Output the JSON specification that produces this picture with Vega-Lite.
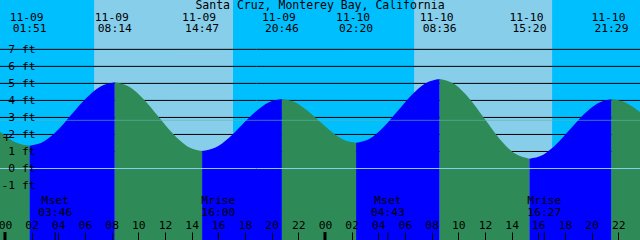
{
  "$schema": "https://vega.github.io/schema/vega-lite/v6.json",
  "width": 640,
  "height": 240,
  "autosize": {"type": "none"},
  "padding": 0,
  "background": "#00BFFF",
  "view": {"fill": "#00BFFF", "stroke": null},
  "config": {"text": {"font": "DejaVu Sans Mono", "fontSize": 11.3, "color": "black"}},
  "title": {"text": "Santa Cruz, Monterey Bay, California", "orient": "top", "anchor": "middle", "offset": -20, "baseline": "alphabetic", "font": "DejaVu Sans Mono", "fontSize": 11.5, "fontWeight": "normal", "color": "black"},
  "datasets": {
    "tide": [
      {"t": "2024-11-08T19:40", "h": 4.2, "seg": 0, "dir": "fall"},
      {"t": "2024-11-08T20:42", "h": 4.01, "seg": 0, "dir": "fall"},
      {"t": "2024-11-08T21:44", "h": 3.49, "seg": 0, "dir": "fall"},
      {"t": "2024-11-08T22:45", "h": 2.77, "seg": 0, "dir": "fall"},
      {"t": "2024-11-08T23:47", "h": 2.06, "seg": 0, "dir": "fall"},
      {"t": "2024-11-09T00:49", "h": 1.53, "seg": 0, "dir": "fall"},
      {"t": "2024-11-09T01:51", "h": 1.34, "seg": 0, "dir": "fall"},
      {"t": "2024-11-09T01:51", "h": 1.34, "seg": 1, "dir": "rise"},
      {"t": "2024-11-09T02:55", "h": 1.59, "seg": 1, "dir": "rise"},
      {"t": "2024-11-09T03:59", "h": 2.27, "seg": 1, "dir": "rise"},
      {"t": "2024-11-09T05:02", "h": 3.21, "seg": 1, "dir": "rise"},
      {"t": "2024-11-09T06:06", "h": 4.14, "seg": 1, "dir": "rise"},
      {"t": "2024-11-09T07:10", "h": 4.82, "seg": 1, "dir": "rise"},
      {"t": "2024-11-09T08:14", "h": 5.07, "seg": 1, "dir": "rise"},
      {"t": "2024-11-09T08:14", "h": 5.07, "seg": 2, "dir": "fall"},
      {"t": "2024-11-09T09:19", "h": 4.8, "seg": 2, "dir": "fall"},
      {"t": "2024-11-09T10:25", "h": 4.06, "seg": 2, "dir": "fall"},
      {"t": "2024-11-09T11:30", "h": 3.05, "seg": 2, "dir": "fall"},
      {"t": "2024-11-09T12:36", "h": 2.04, "seg": 2, "dir": "fall"},
      {"t": "2024-11-09T13:41", "h": 1.3, "seg": 2, "dir": "fall"},
      {"t": "2024-11-09T14:47", "h": 1.03, "seg": 2, "dir": "fall"},
      {"t": "2024-11-09T14:47", "h": 1.03, "seg": 3, "dir": "rise"},
      {"t": "2024-11-09T15:47", "h": 1.23, "seg": 3, "dir": "rise"},
      {"t": "2024-11-09T16:47", "h": 1.79, "seg": 3, "dir": "rise"},
      {"t": "2024-11-09T17:46", "h": 2.56, "seg": 3, "dir": "rise"},
      {"t": "2024-11-09T18:46", "h": 3.32, "seg": 3, "dir": "rise"},
      {"t": "2024-11-09T19:46", "h": 3.88, "seg": 3, "dir": "rise"},
      {"t": "2024-11-09T20:46", "h": 4.08, "seg": 3, "dir": "rise"},
      {"t": "2024-11-09T20:46", "h": 4.08, "seg": 4, "dir": "fall"},
      {"t": "2024-11-09T21:42", "h": 3.91, "seg": 4, "dir": "fall"},
      {"t": "2024-11-09T22:37", "h": 3.44, "seg": 4, "dir": "fall"},
      {"t": "2024-11-09T23:33", "h": 2.8, "seg": 4, "dir": "fall"},
      {"t": "2024-11-10T00:29", "h": 2.16, "seg": 4, "dir": "fall"},
      {"t": "2024-11-10T01:24", "h": 1.69, "seg": 4, "dir": "fall"},
      {"t": "2024-11-10T02:20", "h": 1.52, "seg": 4, "dir": "fall"},
      {"t": "2024-11-10T02:20", "h": 1.52, "seg": 5, "dir": "rise"},
      {"t": "2024-11-10T03:23", "h": 1.77, "seg": 5, "dir": "rise"},
      {"t": "2024-11-10T04:25", "h": 2.46, "seg": 5, "dir": "rise"},
      {"t": "2024-11-10T05:28", "h": 3.39, "seg": 5, "dir": "rise"},
      {"t": "2024-11-10T06:31", "h": 4.33, "seg": 5, "dir": "rise"},
      {"t": "2024-11-10T07:33", "h": 5.01, "seg": 5, "dir": "rise"},
      {"t": "2024-11-10T08:36", "h": 5.26, "seg": 5, "dir": "rise"},
      {"t": "2024-11-10T08:36", "h": 5.26, "seg": 6, "dir": "fall"},
      {"t": "2024-11-10T09:43", "h": 4.95, "seg": 6, "dir": "fall"},
      {"t": "2024-11-10T10:51", "h": 4.09, "seg": 6, "dir": "fall"},
      {"t": "2024-11-10T11:58", "h": 2.92, "seg": 6, "dir": "fall"},
      {"t": "2024-11-10T13:05", "h": 1.75, "seg": 6, "dir": "fall"},
      {"t": "2024-11-10T14:13", "h": 0.89, "seg": 6, "dir": "fall"},
      {"t": "2024-11-10T15:20", "h": 0.58, "seg": 6, "dir": "fall"},
      {"t": "2024-11-10T15:20", "h": 0.58, "seg": 7, "dir": "rise"},
      {"t": "2024-11-10T16:22", "h": 0.81, "seg": 7, "dir": "rise"},
      {"t": "2024-11-10T17:23", "h": 1.45, "seg": 7, "dir": "rise"},
      {"t": "2024-11-10T18:25", "h": 2.33, "seg": 7, "dir": "rise"},
      {"t": "2024-11-10T19:26", "h": 3.2, "seg": 7, "dir": "rise"},
      {"t": "2024-11-10T20:28", "h": 3.84, "seg": 7, "dir": "rise"},
      {"t": "2024-11-10T21:29", "h": 4.07, "seg": 7, "dir": "rise"},
      {"t": "2024-11-10T21:29", "h": 4.07, "seg": 8, "dir": "fall"},
      {"t": "2024-11-10T22:24", "h": 3.92, "seg": 8, "dir": "fall"},
      {"t": "2024-11-10T23:19", "h": 3.5, "seg": 8, "dir": "fall"},
      {"t": "2024-11-11T00:14", "h": 2.94, "seg": 8, "dir": "fall"},
      {"t": "2024-11-11T01:10", "h": 2.37, "seg": 8, "dir": "fall"},
      {"t": "2024-11-11T02:05", "h": 1.95, "seg": 8, "dir": "fall"},
      {"t": "2024-11-11T03:00", "h": 1.8, "seg": 8, "dir": "fall"}
    ],
    "days": [
      {"rise": "2024-11-09T06:41", "set": "2024-11-09T17:06"},
      {"rise": "2024-11-10T06:41", "set": "2024-11-10T17:02"}
    ],
    "levels": [
      {"h": 1}, {"h": 2}, {"h": 3}, {"h": 4}, {"h": 5}, {"h": 6}, {"h": 7}
    ],
    "extremes": [
      {"t": "2024-11-09T01:51", "h": 1.34},
      {"t": "2024-11-09T08:14", "h": 5.07},
      {"t": "2024-11-09T14:47", "h": 1.03},
      {"t": "2024-11-09T20:46", "h": 4.08},
      {"t": "2024-11-10T02:20", "h": 1.52},
      {"t": "2024-11-10T08:36", "h": 5.26},
      {"t": "2024-11-10T15:20", "h": 0.58},
      {"t": "2024-11-10T21:29", "h": 4.07}
    ],
    "moon": [
      {"t": "2024-11-09T03:46", "ev": "Mset"},
      {"t": "2024-11-09T16:00", "ev": "Mrise"},
      {"t": "2024-11-10T04:43", "ev": "Mset"},
      {"t": "2024-11-10T16:27", "ev": "Mrise"}
    ],
    "midnights": [
      {"t": "2024-11-09T00:00"},
      {"t": "2024-11-10T00:00"}
    ],
    "marker": [
      {"t": "2024-11-09T00:08", "h": 1.77}
    ]
  },
  "layer": [
    {
      "data": {"name": "days"},
      "mark": {"type": "rect", "color": "#87CEEB"},
      "encoding": {
        "x": {
          "field": "rise", "type": "temporal",
          "scale": {"domain": [
            {"year": 2024, "month": 11, "date": 8, "hours": 23, "minutes": 37, "seconds": 30},
            {"year": 2024, "month": 11, "date": 10, "hours": 23, "minutes": 37, "seconds": 30}
          ]},
          "axis": {
            "orient": "top", "offset": -240, "format": "%H", "tickCount": 60,
            "values": [
              {"year": 2024, "month": 11, "date": 9, "hours": 0},
              {"year": 2024, "month": 11, "date": 9, "hours": 2},
              {"year": 2024, "month": 11, "date": 9, "hours": 4},
              {"year": 2024, "month": 11, "date": 9, "hours": 6},
              {"year": 2024, "month": 11, "date": 9, "hours": 8},
              {"year": 2024, "month": 11, "date": 9, "hours": 10},
              {"year": 2024, "month": 11, "date": 9, "hours": 12},
              {"year": 2024, "month": 11, "date": 9, "hours": 14},
              {"year": 2024, "month": 11, "date": 9, "hours": 16},
              {"year": 2024, "month": 11, "date": 9, "hours": 18},
              {"year": 2024, "month": 11, "date": 9, "hours": 20},
              {"year": 2024, "month": 11, "date": 9, "hours": 22},
              {"year": 2024, "month": 11, "date": 10, "hours": 0},
              {"year": 2024, "month": 11, "date": 10, "hours": 2},
              {"year": 2024, "month": 11, "date": 10, "hours": 4},
              {"year": 2024, "month": 11, "date": 10, "hours": 6},
              {"year": 2024, "month": 11, "date": 10, "hours": 8},
              {"year": 2024, "month": 11, "date": 10, "hours": 10},
              {"year": 2024, "month": 11, "date": 10, "hours": 12},
              {"year": 2024, "month": 11, "date": 10, "hours": 14},
              {"year": 2024, "month": 11, "date": 10, "hours": 16},
              {"year": 2024, "month": 11, "date": 10, "hours": 18},
              {"year": 2024, "month": 11, "date": 10, "hours": 20},
              {"year": 2024, "month": 11, "date": 10, "hours": 22}
            ],
            "domain": false, "grid": false, "ticks": true, "tickSize": 8, "tickColor": "black", "tickWidth": 1,
            "labelFont": "DejaVu Sans Mono", "labelFontSize": 11.3, "labelColor": "black",
            "labelPadding": 2, "labelOverlap": false, "labelFlush": false,
            "title": null, "zindex": 1
          }
        },
        "x2": {"field": "set"}
      }
    },
    {
      "data": {"name": "levels"},
      "mark": {"type": "rule", "color": "black", "strokeWidth": 1},
      "encoding": {
        "y": {
          "field": "h", "type": "quantitative",
          "scale": {"domain": [-4.2, 9.9], "nice": false, "zero": false},
          "axis": {
            "orient": "left", "offset": -39, "tickCount": 40, "values": [-1, 0, 1, 2, 3, 4, 5, 6, 7],
            "labelExpr": "datum.value + ' ft'",
            "domain": false, "ticks": false, "grid": false, "labelOverlap": false,
            "labelFont": "DejaVu Sans Mono", "labelFontSize": 11.3, "labelColor": "black",
            "labelPadding": 4, "labelBaseline": "middle", "title": null, "zindex": 1
          }
        }
      }
    },
    {
      "data": {"name": "tide"},
      "mark": {"type": "area", "interpolate": "monotone", "clip": true},
      "encoding": {
        "x": {"field": "t", "type": "temporal"},
        "y": {"field": "h", "type": "quantitative", "stack": null},
        "y2": {"datum": -4.2},
        "color": {"field": "dir", "type": "nominal", "scale": {"domain": ["rise", "fall"], "range": ["#0000FF", "#2E8B57"]}, "legend": null},
        "detail": {"field": "seg", "type": "nominal"}
      }
    },
    {
      "data": {"values": [{"h": 2.83}]},
      "mark": {"type": "rule", "color": "#64B5AB", "opacity": 0.6, "strokeWidth": 1},
      "encoding": {"y": {"field": "h", "type": "quantitative"}}
    },
    {
      "data": {"values": [{"h": 0}]},
      "mark": {"type": "rule", "color": "#87CEEB", "strokeWidth": 1},
      "encoding": {"y": {"field": "h", "type": "quantitative"}}
    },
    {
      "data": {"name": "extremes"},
      "mark": {"type": "text", "align": "center", "baseline": "middle", "dx": -3},
      "encoding": {
        "x": {"field": "t", "type": "temporal"},
        "y": {"datum": 8.87},
        "text": {"field": "t", "type": "temporal", "format": "%m-%d"}
      }
    },
    {
      "data": {"name": "extremes"},
      "mark": {"type": "text", "align": "center", "baseline": "middle"},
      "encoding": {
        "x": {"field": "t", "type": "temporal"},
        "y": {"datum": 8.17},
        "text": {"field": "t", "type": "temporal", "format": "%H:%M"}
      }
    },
    {
      "data": {"name": "moon"},
      "mark": {"type": "text", "align": "center", "baseline": "middle"},
      "encoding": {
        "x": {"field": "t", "type": "temporal"},
        "y": {"datum": -1.91},
        "text": {"field": "ev"}
      }
    },
    {
      "data": {"name": "moon"},
      "mark": {"type": "text", "align": "center", "baseline": "middle"},
      "encoding": {
        "x": {"field": "t", "type": "temporal"},
        "y": {"datum": -2.63},
        "text": {"field": "t", "type": "temporal", "format": "%H:%M"}
      }
    },
    {
      "data": {"name": "moon"},
      "mark": {"type": "rule", "color": "black", "strokeWidth": 1},
      "encoding": {
        "x": {"field": "t", "type": "temporal"},
        "y": {"datum": -4.2},
        "y2": {"datum": -3.73}
      }
    },
    {
      "data": {"name": "midnights"},
      "mark": {"type": "rule", "color": "black", "strokeWidth": 3},
      "encoding": {
        "x": {"field": "t", "type": "temporal"},
        "y": {"datum": -4.2},
        "y2": {"datum": -3.73}
      }
    },
    {
      "data": {"name": "marker"},
      "mark": {"type": "text", "align": "center", "baseline": "middle", "fontSize": 13},
      "encoding": {
        "x": {"field": "t", "type": "temporal"},
        "y": {"field": "h", "type": "quantitative"},
        "text": {"value": "+"}
      }
    }
  ]
}
